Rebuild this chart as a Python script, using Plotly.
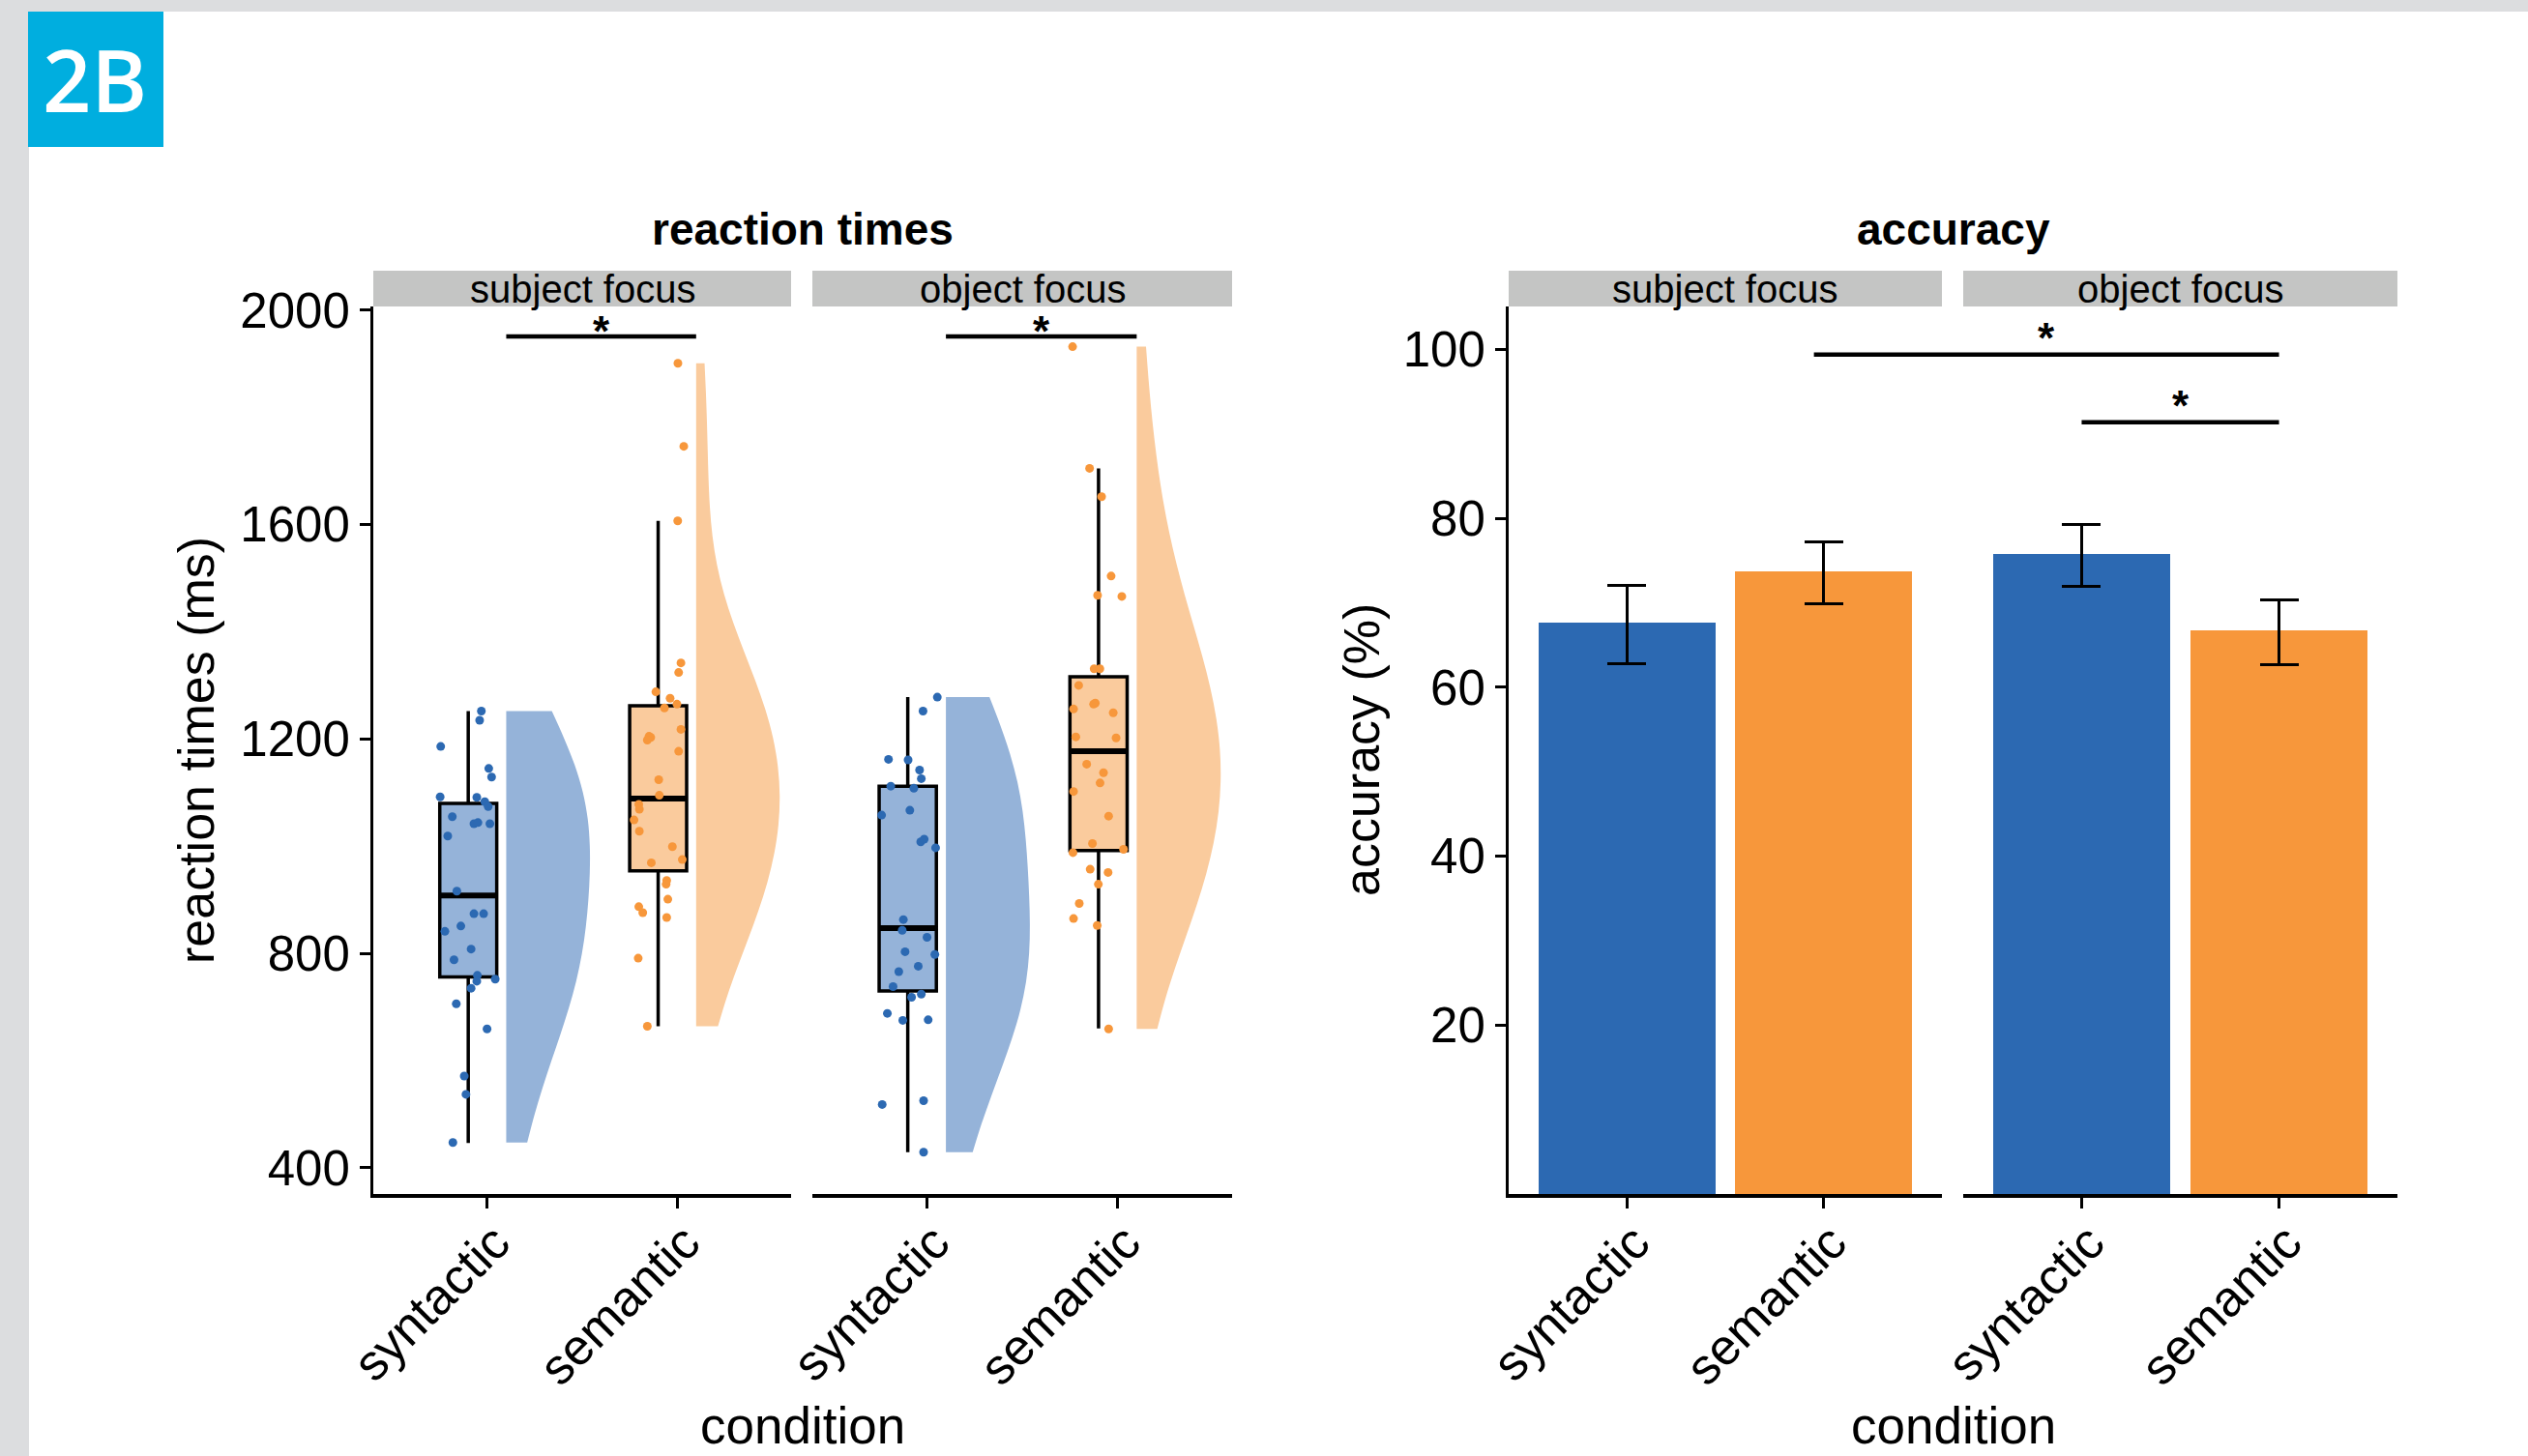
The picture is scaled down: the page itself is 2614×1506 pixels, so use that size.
import numpy as np
import plotly.graph_objects as go

W, H = 2614, 1506

conditions = ["syntactic", "semantic"]
foci = ["subject focus", "object focus"]

# ---- reaction times (ms): individual points ----
rt_subj_syn = [1186, 1252, 1235, 1145, 1129, 1092, 1091, 1083, 1074, 1055, 1042, 1044, 1042, 1019, 916,
               874, 874, 841, 851, 808, 788, 759, 748, 752, 735, 706, 659, 571, 537, 447]
rt_subj_sem = [1288, 1276, 1265, 1258, 1218, 1205, 1203, 1198, 1177, 1124, 1095, 1078, 1069, 1049, 1028,
               999, 975, 969, 936, 929, 901, 887, 876, 867, 791, 664, 1342, 1324, 1901, 1746, 1607]
rt_obj_syn = [1278, 1252, 1162, 1161, 1142, 1126, 1112, 1108, 1067, 1058, 1008, 1013, 997, 863, 843,
              830, 803, 798, 776, 766, 738, 724, 718, 688, 675, 676, 518, 525, 429]
rt_obj_sem = [1331, 1331, 1300, 1256, 1267, 1265, 1249, 1204, 1202, 1153, 1137, 1118, 1102, 1056, 1005,
              988, 994, 957, 951, 929, 893, 865, 852, 659, 1932, 1705, 1652, 1504, 1468, 1466]

# horizontal jitter of each point (category units, relative to the box centre)
jit_subj_syn = [-0.145, 0.069, 0.060, 0.108, 0.123, -0.148, 0.045, 0.087, 0.105, -0.084, 0.030, 0.051, 0.114,
                -0.108, -0.060, 0.030, 0.081, -0.123, -0.039, 0.015, -0.075, 0.048, 0.045, 0.142, 0.015,
                -0.063, 0.099, -0.021, -0.012, -0.081]
jit_subj_sem = [-0.012, 0.063, 0.099, 0.033, 0.120, -0.048, -0.039, -0.057, 0.108, 0.003, 0.006, -0.102,
                -0.099, -0.127, -0.099, 0.075, 0.127, -0.036, 0.045, 0.042, 0.051, -0.102, -0.081, 0.045,
                -0.105, -0.057, 0.120, 0.108, 0.104, 0.135, 0.103]
jit_obj_syn = [0.155, 0.080, -0.101, 0.002, 0.062, 0.071, -0.089, 0.032, 0.011, -0.137, 0.068, 0.086, 0.146,
               -0.023, -0.029, 0.101, -0.014, 0.142, 0.055, -0.047, -0.077, 0.071, 0.020, -0.107, -0.026,
               0.107, -0.134, 0.083, 0.083]
jit_obj_sem = [-0.023, 0.007, -0.104, -0.131, -0.017, -0.026, 0.077, -0.119, 0.092, -0.062, 0.026, 0.008,
               -0.131, 0.053, -0.032, -0.134, 0.131, -0.044, 0.050, -0.001, -0.101, -0.131, -0.007, 0.053,
               -0.136, -0.047, 0.016, 0.066, -0.005, 0.122]

# box statistics: [syntactic, semantic]
box_subj_q1 = [756, 954]
box_subj_med = [908, 1089]
box_subj_q3 = [1080, 1262]
box_subj_lo = [446, 664]
box_subj_hi = [1252, 1607]
box_obj_q1 = [730, 992]
box_obj_med = [847, 1177]
box_obj_q3 = [1112, 1316]
box_obj_lo = [429, 660]
box_obj_hi = [1278, 1705]

rt_ticks = [400, 800, 1200, 1600, 2000]
rt_sig_y = 1951

# ---- accuracy (%) ----
acc_subj = [67.7, 73.7]
acc_subj_hi = [72.1, 77.2]
acc_subj_lo = [62.8, 69.9]
acc_obj = [75.8, 66.7]
acc_obj_hi = [79.3, 70.3]
acc_obj_lo = [72.0, 62.7]
acc_ticks = [20, 40, 60, 80, 100]
acc_sig_long_y = 99.4
acc_sig_short_y = 91.4

# ---- styling ----
BLUE = "#2C69B2"
ORANGE = "#F7973B"
BLUE_L = "#95B3D9"
ORANGE_L = "#FACB9D"
FONT = "Liberation Sans"
cols = [BLUE, ORANGE]
cols_l = [BLUE_L, ORANGE_L]


def px_x(p):
    return p / W


def px_y(p):
    return 1 - p / H


xdom = {
    "x": [px_x(386), px_x(818)],
    "x2": [px_x(840), px_x(1274)],
    "x3": [px_x(1560), px_x(2008)],
    "x4": [px_x(2030), px_x(2479)],
}
ydom = [px_y(1235), px_y(317)]
XR = [0.4, 2.6]
RT_R = [351, 2007]
ACC_R = [0, 105.1]
BW_ADJUST = 1.6


def bw_nrd0(v):
    v = np.asarray(v, float)
    sd = v.std(ddof=1)
    iqr = np.subtract(*np.percentile(v, [75, 25]))
    lo = min(sd, iqr / 1.34)
    return 0.9 * lo * len(v) ** (-0.2)


fig = go.Figure()

rt_sets = [
    ("x", "y", [rt_subj_syn, rt_subj_sem], [jit_subj_syn, jit_subj_sem],
     box_subj_q1, box_subj_med, box_subj_q3, box_subj_lo, box_subj_hi),
    ("x2", "y2", [rt_obj_syn, rt_obj_sem], [jit_obj_syn, jit_obj_sem],
     box_obj_q1, box_obj_med, box_obj_q3, box_obj_lo, box_obj_hi),
]

for xa, ya, vals, jits, q1, med, q3, lo, hi in rt_sets:
    for i in range(2):
        pos = i + 1
        fig.add_trace(go.Violin(
            y=vals[i], x0=pos + 0.1, side="positive", width=0.88, spanmode="hard",
            bandwidth=BW_ADJUST * bw_nrd0(vals[i]), points=False, fillcolor=cols_l[i],
            line=dict(color=cols_l[i], width=0), opacity=1, scalemode="width",
            box=dict(visible=False), meanline=dict(visible=False),
            xaxis=xa, yaxis=ya, showlegend=False, hoverinfo="skip"))
        fig.add_trace(go.Box(
            x=[pos - 0.1], q1=[q1[i]], median=[med[i]], q3=[q3[i]],
            lowerfence=[lo[i]], upperfence=[hi[i]], width=0.3, whiskerwidth=0,
            fillcolor=cols_l[i], line=dict(color="black", width=3.5), boxpoints=False,
            xaxis=xa, yaxis=ya, showlegend=False, hoverinfo="skip"))
        fig.add_trace(go.Scatter(
            x=[pos - 0.25, pos + 0.05], y=[med[i], med[i]], mode="lines",
            line=dict(color="black", width=6), xaxis=xa, yaxis=ya,
            showlegend=False, hoverinfo="skip"))
        fig.add_trace(go.Scatter(
            x=[pos - 0.1 + j for j in jits[i]], y=vals[i], mode="markers",
            marker=dict(color=cols[i], size=9, line=dict(width=0)),
            xaxis=xa, yaxis=ya, showlegend=False, hoverinfo="skip"))

acc_sets = [("x3", "y3", acc_subj, acc_subj_hi, acc_subj_lo),
            ("x4", "y4", acc_obj, acc_obj_hi, acc_obj_lo)]
for xa, ya, m, hi, lo in acc_sets:
    for i in range(2):
        fig.add_trace(go.Bar(
            x=[i + 1], y=[m[i]], width=0.9, marker=dict(color=cols[i], line=dict(width=0)),
            error_y=dict(type="data", symmetric=False, array=[hi[i] - m[i]],
                         arrayminus=[m[i] - lo[i]], color="black", thickness=3, width=20),
            xaxis=xa, yaxis=ya, showlegend=False, hoverinfo="skip"))

axis_common = dict(showgrid=False, zeroline=False, color="black", automargin=False,
                   linecolor="black", tickcolor="black")
layout = dict(
    width=W, height=H, margin=dict(l=0, r=0, t=0, b=0, pad=0, autoexpand=False),
    paper_bgcolor="white", plot_bgcolor="white",
    font=dict(family=FONT, color="black"),
    bargap=0,
)
for k in ["x", "x2", "x3", "x4"]:
    name = "xaxis" if k == "x" else "xaxis" + k[1:]
    yk = "y" + k[1:]
    layout[name] = dict(domain=xdom[k], range=XR, anchor=yk, tickvals=[1, 2], ticktext=conditions,
                        tickangle=-45, ticks="outside", ticklen=11, tickwidth=3,
                        ticklabelstandoff=-16, ticklabelshift=8,
                        showline=True, linewidth=3.5, tickfont=dict(size=52, family=FONT),
                        fixedrange=True, **axis_common)
layout["yaxis"] = dict(domain=ydom, range=RT_R, anchor="x", tickvals=rt_ticks, ticks="outside",
                       ticklen=11, tickwidth=3, showline=True, linewidth=3,
                       tickfont=dict(size=51, family=FONT), **axis_common)
layout["yaxis2"] = dict(domain=ydom, range=RT_R, anchor="x2", matches="y", showline=False,
                        showticklabels=False, ticks="", **axis_common)
layout["yaxis3"] = dict(domain=ydom, range=ACC_R, anchor="x3", tickvals=acc_ticks, ticks="outside",
                        ticklen=11, tickwidth=3, showline=True, linewidth=3,
                        tickfont=dict(size=51, family=FONT), **axis_common)
layout["yaxis4"] = dict(domain=ydom, range=ACC_R, anchor="x4", matches="y3", showline=False,
                        showticklabels=False, ticks="", **axis_common)
fig.update_layout(**layout)

shapes = []
annotations = []


def text(t, x, y, size, xref="paper", yref="paper", **kw):
    d = dict(text=t, xref=xref, yref=yref, x=x, y=y, showarrow=False,
             xanchor="center", yanchor="middle", font=dict(size=size, family=FONT, color="black"))
    d.update(kw)
    annotations.append(d)


# page decoration
shapes.append(dict(type="rect", xref="paper", yref="paper", x0=0, x1=1, y0=px_y(12), y1=1,
                   fillcolor="#DCDDDF", line=dict(width=0), layer="below"))
shapes.append(dict(type="rect", xref="paper", yref="paper", x0=0, x1=px_x(30), y0=0, y1=1,
                   fillcolor="#DCDDDF", line=dict(width=0), layer="below"))
shapes.append(dict(type="rect", xref="paper", yref="paper", x0=px_x(29), x1=px_x(169),
                   y0=px_y(152), y1=px_y(12), fillcolor="#00AEDF", line=dict(width=0)))
text("2B", px_x(98), px_y(82), 88, font=dict(family="Open Sans", size=88, color="white", weight=600))

# strips
for k, lab in zip(["x", "x2", "x3", "x4"], foci + foci):
    shapes.append(dict(type="rect", xref="paper", yref="paper", x0=xdom[k][0], x1=xdom[k][1],
                       y0=px_y(317), y1=px_y(280), fillcolor="#C4C5C4", line=dict(width=0)))
    text(lab, (xdom[k][0] + xdom[k][1]) / 2, px_y(299), 40)

# titles
rt_cx = (xdom["x"][0] + xdom["x2"][1]) / 2
acc_cx = (xdom["x3"][0] + xdom["x4"][1]) / 2
for cx, t in [(rt_cx, "reaction times"), (acc_cx, "accuracy")]:
    text("<b>%s</b>" % t, cx, px_y(237), 46)
    text("condition", cx, 0, 53, yanchor="bottom", yshift=0)
ymid = (ydom[0] + ydom[1]) / 2
text("reaction times (ms)", px_x(203), ymid, 52, textangle=-90)
text("accuracy (%)", px_x(1408), ymid, 52, textangle=-90)


# significance markers
def star(xref, yref, x, y, shift):
    text("<b>*</b>", x, y, 44, xref=xref, yref=yref, yanchor="bottom", yshift=shift)


for xa, ya in [("x", "y"), ("x2", "y2")]:
    shapes.append(dict(type="line", xref=xa, yref=ya, x0=1.1, x1=2.1, y0=rt_sig_y, y1=rt_sig_y,
                       line=dict(color="black", width=4.5)))
    star(xa, ya, 1.6, rt_sig_y, -21)

shapes.append(dict(type="line", xref="x4", yref="y4", x0=1.0, x1=2.0, y0=acc_sig_short_y,
                   y1=acc_sig_short_y, line=dict(color="black", width=4.5)))
star("x4", "y4", 1.5, acc_sig_short_y, -9)


def to_paper(k, v):
    d = xdom[k]
    return d[0] + (v - XR[0]) / (XR[1] - XR[0]) * (d[1] - d[0])


lx0 = to_paper("x3", 1.95)
lx1 = to_paper("x4", 2.0)
shapes.append(dict(type="line", xref="paper", yref="y3", x0=lx0, x1=lx1, y0=acc_sig_long_y,
                   y1=acc_sig_long_y, line=dict(color="black", width=4.5)))
star("paper", "y3", (lx0 + lx1) / 2, acc_sig_long_y, -9)

fig.update_layout(shapes=shapes, annotations=annotations)
fig.write_html("out.html", config={"displayModeBar": False},
               post_script="document.body.style.margin='0px';document.body.style.overflow='hidden';")
